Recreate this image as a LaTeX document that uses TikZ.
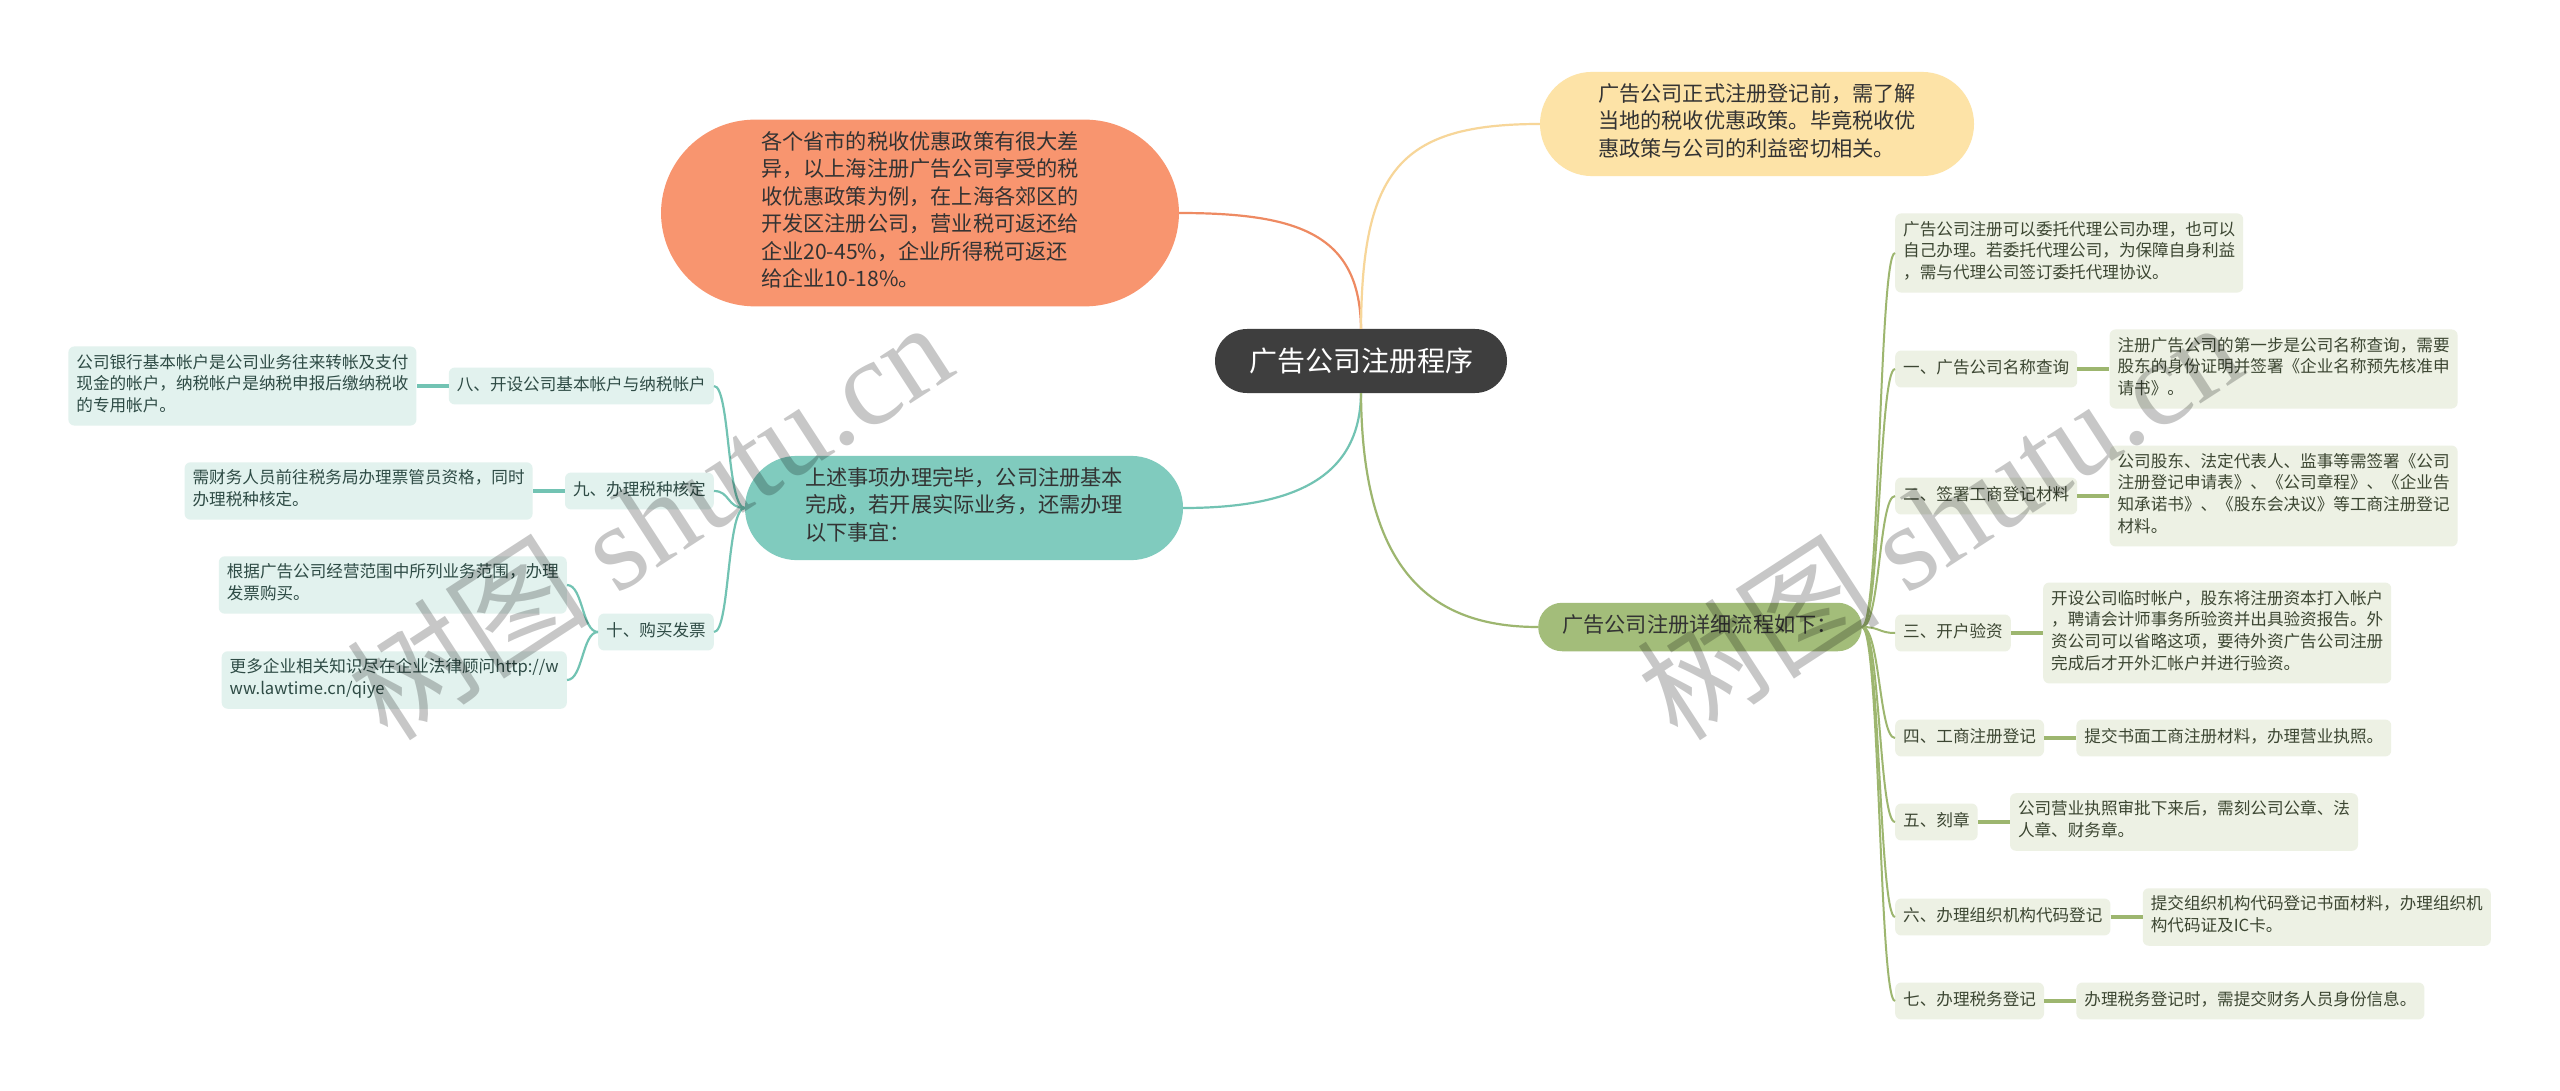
\documentclass[tikz,border=0pt]{standalone}
\usepackage{fontspec}
\setmainfont{Noto Sans CJK SC}
\newfontfamily\wmlatin{Liberation Serif}
\usetikzlibrary{positioning}
\definecolor{cdark}{HTML}{3E3E3E}
\definecolor{csalmon}{HTML}{F8956F}
\definecolor{cyellow}{HTML}{FDE3A7}
\definecolor{cteal}{HTML}{80CBBE}
\definecolor{cgreen}{HTML}{A3BD7A}
\definecolor{ctext}{HTML}{333333}
\definecolor{lsalmon}{HTML}{EE8A62}
\definecolor{lyellow}{HTML}{F7D699}
\definecolor{lteal}{HTML}{72C3B3}
\definecolor{lgreen}{HTML}{9DB66F}
\definecolor{rfill}{HTML}{EDF1E4}
\definecolor{rtext}{HTML}{3C4632}
\definecolor{lfill}{HTML}{E2F2EE}
\definecolor{ltext}{HTML}{2E4B45}
\begin{document}
\begin{tikzpicture}[x=1pt,y=-1pt,
  central/.style={fill=cdark, text=white, rounded corners=32pt, minimum height=64pt,
    inner xsep=34pt, font=\fontsize{28}{34}\selectfont},
  lvlone/.style={inner ysep=11.5pt, align=left, text=ctext,
    font=\fontsize{21.2}{27.5}\selectfont,
    execute at begin node=\strut, execute at end node=\strut},
  leafR/.style={fill=rfill, text=rtext, rounded corners=6pt, inner xsep=8pt, inner ysep=7.6pt,
    align=left, font=\fontsize{16.6}{21.7}\selectfont,
    execute at begin node=\strut, execute at end node=\strut},
  leafL/.style={leafR, fill=lfill, text=ltext},
  rline/.style={draw=lgreen, line width=2pt},
  rleaf/.style={draw=lgreen, line width=3.5pt},
  lline/.style={draw=lteal, line width=2.2pt},
  lleaf/.style={draw=lteal, line width=3.5pt},
  wm/.style={rotate=33, text=black, opacity=0.22, font=\fontsize{122}{122}\selectfont}
]
\useasboundingbox (0,0) rectangle (2560,1091);
\fill[white] (0,0) rectangle (2560,1091);

% central and level one
\node[central] (c) at (1361,361) {广告公司注册程序};
\node[lvlone, fill=csalmon, rounded corners=94pt, inner xsep=100pt] (s) at (920,213)
  {各个省市的税收优惠政策有很大差\\异，以上海注册广告公司享受的税\\收优惠政策为例，在上海各郊区的\\开发区注册公司，营业税可返还给\\企业20-45\%，企业所得税可返还\\给企业10-18\%。};
\node[lvlone, fill=cyellow, rounded corners=52pt, inner xsep=58pt] (y) at (1757,124)
  {广告公司正式注册登记前，需了解\\当地的税收优惠政策。毕竟税收优\\惠政策与公司的利益密切相关。};
\node[lvlone, fill=cteal, rounded corners=52pt, inner xsep=60pt] (t) at (964,508)
  {上述事项办理完毕，公司注册基本\\完成，若开展实际业务，还需办理\\以下事宜：};
\node[lvlone, fill=cgreen, rounded corners=24pt, inner xsep=24pt, inner ysep=10.5pt] (g) at (1700,627)
  {广告公司注册详细流程如下：};

% right side
\node[leafR, anchor=west] (r0) at (1895,253)
  {广告公司注册可以委托代理公司办理，也可以\\自己办理。若委托代理公司，为保障自身利益\\，需与代理公司签订委托代理协议。};
\node[leafR, anchor=west] (r1) at (1895,369) {一、广告公司名称查询};
\node[leafR, right=32pt of r1] (r1a)
  {注册广告公司的第一步是公司名称查询，需要\\股东的身份证明并签署《企业名称预先核准申\\请书》。};
\node[leafR, anchor=west] (r2) at (1895,496) {二、签署工商登记材料};
\node[leafR, right=32pt of r2] (r2a)
  {公司股东、法定代表人、监事等需签署《公司\\注册登记申请表》、《公司章程》、《企业告\\知承诺书》、《股东会决议》等工商注册登记\\材料。};
\node[leafR, anchor=west] (r3) at (1895,633) {三、开户验资};
\node[leafR, right=32pt of r3] (r3a)
  {开设公司临时帐户，股东将注册资本打入帐户\\，聘请会计师事务所验资并出具验资报告。外\\资公司可以省略这项，要待外资广告公司注册\\完成后才开外汇帐户并进行验资。};
\node[leafR, anchor=west] (r4) at (1895,738) {四、工商注册登记};
\node[leafR, right=32pt of r4] (r4a) {提交书面工商注册材料，办理营业执照。};
\node[leafR, anchor=west] (r5) at (1895,822) {五、刻章};
\node[leafR, right=32pt of r5] (r5a) {公司营业执照审批下来后，需刻公司公章、法\\人章、财务章。};
\node[leafR, anchor=west] (r6) at (1895,917) {六、办理组织机构代码登记};
\node[leafR, right=32pt of r6] (r6a) {提交组织机构代码登记书面材料，办理组织机\\构代码证及IC卡。};
\node[leafR, anchor=west] (r7) at (1895,1001) {七、办理税务登记};
\node[leafR, right=32pt of r7] (r7a) {办理税务登记时，需提交财务人员身份信息。};

% left side
\node[leafL, anchor=east] (l8) at (714,386) {八、开设公司基本帐户与纳税帐户};
\node[leafL, left=32pt of l8] (l8a)
  {公司银行基本帐户是公司业务往来转帐及支付\\现金的帐户，纳税帐户是纳税申报后缴纳税收\\的专用帐户。};
\node[leafL, anchor=east] (l9) at (714,491) {九、办理税种核定};
\node[leafL, left=32pt of l9] (l9a)
  {需财务人员前往税务局办理票管员资格，同时\\办理税种核定。};
\node[leafL, anchor=east] (l10) at (714,632) {十、购买发票};
\node[leafL, anchor=east] (l10a) at (567,585)
  {根据广告公司经营范围中所列业务范围，办理\\发票购买。};
\node[leafL, anchor=east] (l10b) at (567,680)
  {更多企业相关知识尽在企业法律顾问http://w\\ww.lawtime.cn/qiye};

% connectors from central
\draw[draw=lsalmon, line width=2.2pt] (c.north) .. controls (1360,235) and (1300,213) .. (s.east);
\draw[draw=lyellow, line width=2.2pt] (c.north) .. controls (1362,170) and (1400,124) .. (y.west);
\draw[draw=lteal, line width=2.2pt] (c.south) .. controls (1360,480) and (1290,508) .. (t.east);
\draw[draw=lgreen, line width=2.2pt] (c.south) .. controls (1362,570) and (1430,627) .. (g.west);

% right connectors
\foreach \n in {r0,r1,r2,r3,r4,r5,r6,r7}
  \draw[rline] (g.east) .. controls +(18,0) and +(-16,0) .. (\n.west);
\foreach \n in {r1,r2,r3,r4,r5,r6,r7}
  \draw[rleaf] (\n.east) -- (\n a.west);

% left connectors
\foreach \n in {l8,l9,l10}
  \draw[lline] (t.west) .. controls +(-18,0) and +(16,0) .. (\n.east);
\draw[lleaf] (l8.west) -- (l8a.east);
\draw[lleaf] (l9.west) -- (l9a.east);
\draw[lline] (l10.west) .. controls +(-16,0) and +(16,0) .. (l10a.east);
\draw[lline] (l10.west) .. controls +(-16,0) and +(16,0) .. (l10b.east);

% watermark
\node[wm] (wm1) at (649,519) {树图 {\wmlatin shutu.cn}};
\node[wm] (wm2) at (1939,519) {树图 {\wmlatin shutu.cn}};
\end{tikzpicture}
\end{document}
